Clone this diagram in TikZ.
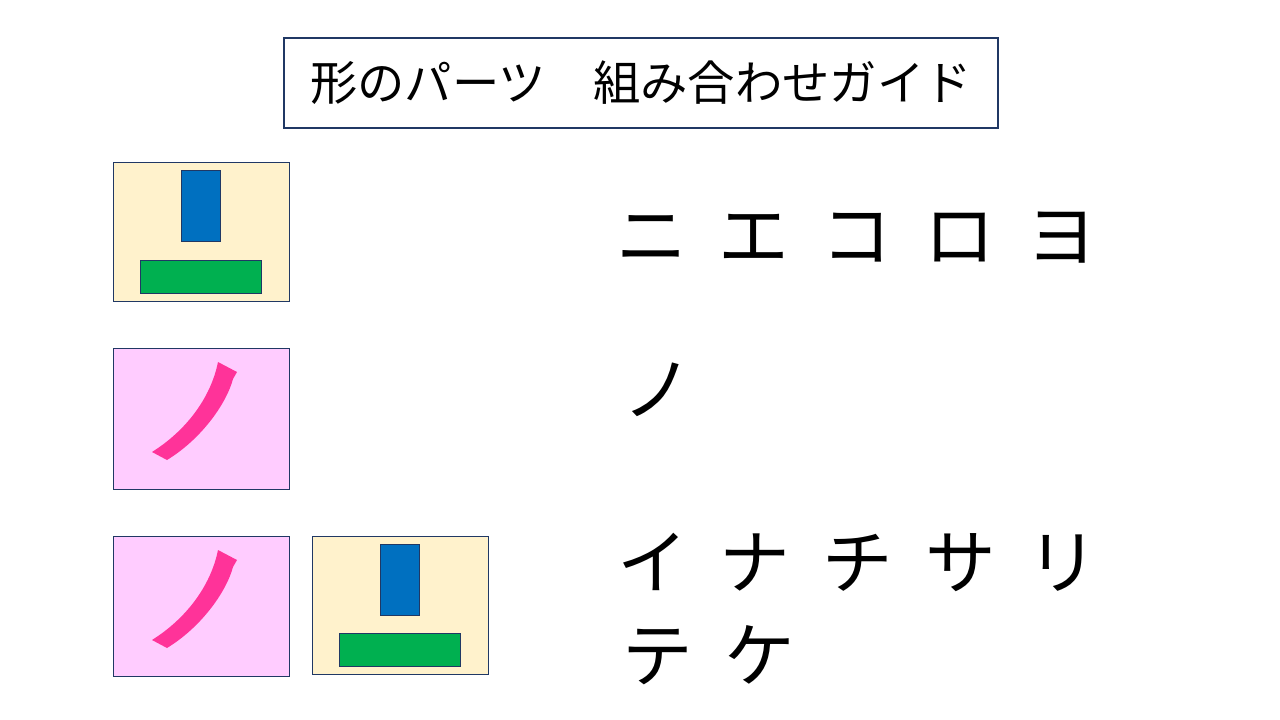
\documentclass[tikz,border=0pt]{standalone}
\usepackage{fontspec}
\newfontfamily\jp{Noto Sans CJK JP}
\definecolor{navy}{HTML}{203864}
\definecolor{cream}{HTML}{FFF2CC}
\definecolor{lpink}{HTML}{FFCCFF}
\definecolor{hpink}{HTML}{FF3399}
\definecolor{pblue}{HTML}{0070C0}
\definecolor{pgreen}{HTML}{00B050}
\tikzset{
  card/.style={draw=navy,line width=0.75pt},
  part/.style={draw=navy,line width=0.75pt},
  kana/.style={anchor=west,inner sep=0pt,font=\jp\fontsize{53pt}{60pt}\selectfont},
}
\newcommand{\ksp}{\hspace{24pt}}
\begin{document}
\begin{tikzpicture}[x=0.75pt,y=-0.75pt]
\useasboundingbox (0,0) rectangle (1280,720);
% title
\node[draw=navy,line width=1pt,minimum width=714*0.75pt,minimum height=90*0.75pt,inner sep=0pt,font=\jp\fontsize{35.5pt}{40pt}\selectfont] (title) at (641,83) {形のパーツ　組み合わせガイド};
% card 1: vertical + horizontal bars
\draw[card,fill=cream] (113,163) rectangle (289,301);
\draw[part,fill=pblue] (181,171) rectangle (220,242);
\draw[part,fill=pgreen] (140,260) rectangle (261,293);
% card 2: slanted stroke
\draw[card,fill=lpink] (113,348) rectangle (289,489);
\fill[hpink] (218,362) .. controls (211,397) and (187,430) .. (152,452)
  -- (167,460) .. controls (200,440) and (226,405) .. (233,379)
  -- (237,372) -- cycle;
% card 3: slanted stroke
\draw[card,fill=lpink] (113,536) rectangle (289,676);
\begin{scope}[yshift=-188*0.75pt]
\fill[hpink] (218,362) .. controls (211,397) and (187,430) .. (152,452)
  -- (167,460) .. controls (200,440) and (226,405) .. (233,379)
  -- (237,372) -- cycle;
\end{scope}
% card 4: bars
\draw[card,fill=cream] (312,536) rectangle (488,674);
\draw[part,fill=pblue] (380,544) rectangle (419,615);
\draw[part,fill=pgreen] (339,633) rectangle (460,666);
% katakana rows
\node[kana] (r1) at (616,238) {ニ\ksp エ\ksp コ\ksp ロ\ksp ヨ};
\node[kana] (r2) at (622,390) {ノ};
\node[kana] (r3) at (617,562) {イ\ksp ナ\ksp チ\ksp サ\ksp リ};
\node[kana] (r4) at (622,655) {テ\ksp ケ};
\end{tikzpicture}
\end{document}
